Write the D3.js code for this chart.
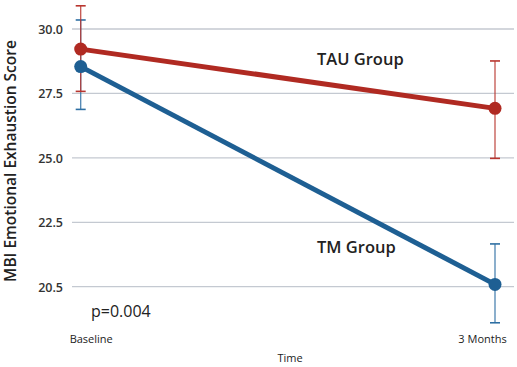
<!DOCTYPE html>
<html><head><meta charset="utf-8">
<script src="https://cdn.jsdelivr.net/npm/d3@7"></script>
<style>body{margin:0;background:#fff}svg{display:block}text{font-family:"Open Sans",sans-serif}</style>
</head><body>
<script>
const categories = ["Baseline", "3 Months"];
const tauMean = [29.22, 26.92];
const tauLow = [27.58, 24.98];
const tauHigh = [30.9, 28.76];
const tmMean = [28.54, 20.09];
const tmLow = [26.88, 18.6];
const tmHigh = [30.35, 21.66];
const yTicks = [30, 27.5, 25, 22.5, 20];
const yTickLabels = ["30.0", "27.5", "25.0", "22.5", "20.5"];

const W = 517, H = 367;
const svg = d3.select("body").append("svg").attr("width", W).attr("height", H);
const x = d3.scalePoint().domain(categories).range([80.7, 495]);
const y = d3.scaleLinear().domain([20, 30]).range([286.7, 29]);

// grid
svg.append("g").selectAll("line").data(yTicks).join("line")
  .attr("x1", 72).attr("x2", 514)
  .attr("y1", d => y(d)).attr("y2", d => y(d))
  .attr("stroke", "#c4c9d1").attr("stroke-width", 1.3);

// y axis labels
const yAxis = d3.axisLeft(y).tickValues(yTicks).tickSize(0).tickPadding(0)
  .tickFormat((d, i) => yTickLabels[i]);
const gy = svg.append("g").attr("transform", "translate(63,0)").call(yAxis);
gy.select(".domain").remove();
gy.selectAll("text").attr("font-size", 12.5).attr("font-weight", 600).attr("fill", "#333").attr("font-family", "Open Sans").attr("dy", "0.35em");

// x axis labels
const xAxis = d3.axisBottom(x).tickSize(0).tickPadding(0);
const gx = svg.append("g").attr("transform", "translate(0,335)").call(xAxis);
gx.select(".domain").remove();
gx.selectAll("text").attr("font-size", 11).attr("fill", "#222").attr("font-family", "Open Sans")
  .attr("dx", (d, i) => i === 0 ? 10 : -13);

svg.append("text").attr("x", 290).attr("y", 362).attr("text-anchor", "middle")
  .attr("font-size", 11).attr("fill", "#222").text("Time");

svg.append("text").attr("transform", "translate(16,161) rotate(-90)")
  .attr("text-anchor", "middle").attr("font-size", 15.5).attr("font-weight", 600)
  .attr("fill", "#222").text("MBI Emotional Exhaustion Score");

const series = [
  {mean: tmMean, low: tmLow, high: tmHigh, color: "#1e5f93", bar: "#2e6fa3"},
  {mean: tauMean, low: tauLow, high: tauHigh, color: "#b02a22", bar: "#b8352e"}
];

// error bars
series.forEach(s => {
  const g = svg.append("g");
  categories.forEach((c, i) => {
    g.append("line").attr("x1", x(c)).attr("x2", x(c)).attr("y1", y(s.low[i])).attr("y2", y(s.high[i]))
      .attr("stroke", s.bar).attr("stroke-width", 1.3).attr("stroke-opacity", 0.85);
    [s.low[i], s.high[i]].forEach(v => {
      g.append("line").attr("x1", x(c) - 5).attr("x2", x(c) + 5).attr("y1", y(v)).attr("y2", y(v))
        .attr("stroke", s.bar).attr("stroke-width", 1.6);
    });
  });
});

// lines and dots
series.forEach(s => {
  const line = d3.line().x((d, i) => x(categories[i])).y(d => y(d));
  svg.append("path").datum(s.mean).attr("d", line).attr("fill", "none")
    .attr("stroke", s.color).attr("stroke-width", 5);
  svg.append("g").selectAll("circle").data(s.mean).join("circle")
    .attr("cx", (d, i) => x(categories[i])).attr("cy", d => y(d)).attr("r", 6.5).attr("fill", s.color);
});

svg.append("text").attr("x", 317).attr("y", 65).attr("font-size", 16.5).attr("font-weight", 600)
  .attr("fill", "#222").text("TAU Group");
svg.append("text").attr("x", 317).attr("y", 253).attr("font-size", 16.5).attr("font-weight", 600)
  .attr("fill", "#222").text("TM Group");
svg.append("text").attr("x", 91).attr("y", 317).attr("font-size", 16).attr("fill", "#222").text("p=0.004");
</script>
</body></html>
